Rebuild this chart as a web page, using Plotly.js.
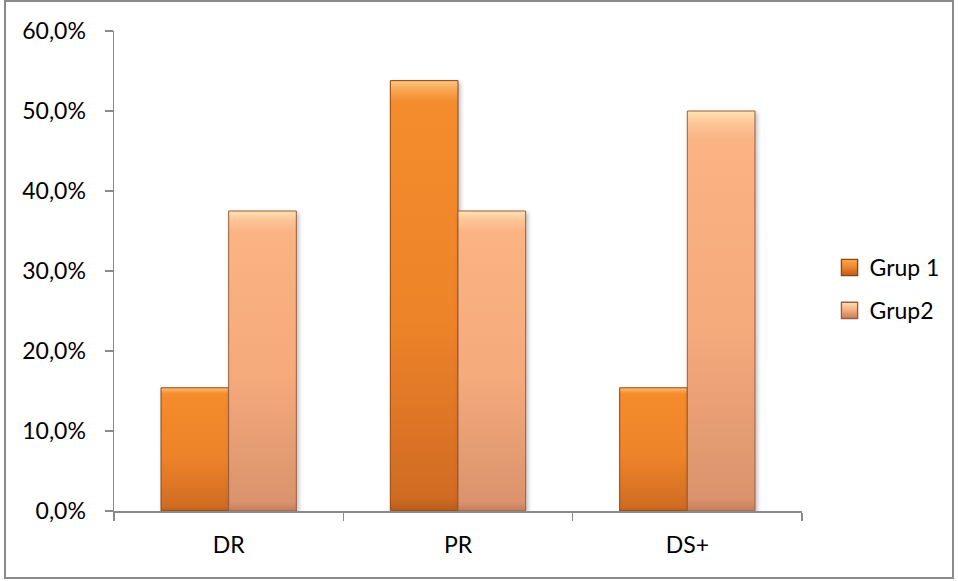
<!DOCTYPE html>
<html>
<head>
<meta charset="utf-8">
<script src="https://cdn.plot.ly/plotly-3.0.1.min.js"></script>
<style>
  html, body { margin: 0; padding: 0; background: #ffffff; }
  #wrap { position: relative; width: 958px; height: 581px; }
  #chart { position: absolute; left: 0; top: 0; width: 958px; height: 581px; }
  #frame {
    position: absolute; left: 4px; top: 0px; width: 946px; height: 575px;
    border: 2px solid #8a8a8a; pointer-events: none;
  }
  .barlayer .point path { filter: drop-shadow(2px 2px 2px rgba(0,0,0,0.25)); }
</style>
</head>
<body>
<div id="wrap">
  <div id="chart"></div>
  <div id="frame"></div>
</div>
<script>
// Categories and shares per group
const categories = ['DR', 'PR', 'DS+'];
const grup1 = [0.154, 0.538, 0.154];
const grup2 = [0.375, 0.375, 0.500];
const seriesNames = ['Grup 1', 'Grup2'];

const FONT = 'Lato, "Open Sans", sans-serif';
const FS = 23;

const traces = [
  {
    type: 'bar', name: seriesNames[0], x: categories, y: grup1,
    marker: { color: '#EE8529', line: { color: '#8f4612', width: 1 } },
    legendgroup: 'a', hoverinfo: 'skip'
  },
  {
    type: 'bar', name: seriesNames[1], x: categories, y: grup2,
    marker: { color: '#F6AA7C', line: { color: '#9c5e42', width: 1 } },
    legendgroup: 'b', hoverinfo: 'skip'
  }
];

const layout = {
  width: 958, height: 581,
  margin: { l: 114, r: 156, t: 31, b: 70, autoexpand: false },
  paper_bgcolor: '#ffffff', plot_bgcolor: '#ffffff',
  separators: ', ',
  font: { family: FONT, size: FS, color: '#000000' },
  barmode: 'group',
  bargap: 0.41, bargroupgap: 0,
  showlegend: true,
  legend: {
    x: 1.04, xanchor: 'left', y: 0.4625, yanchor: 'middle',
    font: { family: FONT, size: FS, color: '#000000' },
    traceorder: 'grouped', tracegroupgap: 10,
    bgcolor: 'rgba(0,0,0,0)', itemwidth: 30
  },
  xaxis: {
    type: 'category', showgrid: false, zeroline: false, automargin: false,
    showline: true, linecolor: '#8a8a8a', linewidth: 1.5,
    ticks: 'outside', tickson: 'boundaries', ticklen: 8, tickcolor: '#8a8a8a', tickwidth: 1.5,
    ticklabelstandoff: 13,
    tickfont: { family: FONT, size: FS, color: '#000000' }
  },
  yaxis: {
    range: [0, 0.6], dtick: 0.1, tick0: 0, tickformat: '.1%', automargin: false,
    showgrid: false, zeroline: false,
    showline: true, linecolor: '#8a8a8a', linewidth: 1.5,
    ticks: 'outside', ticklen: 8, tickcolor: '#8a8a8a', tickwidth: 1.5,
    ticklabelstandoff: 14,
    tickfont: { family: FONT, size: FS, color: '#000000' }
  }
};

Plotly.newPlot('chart', traces, layout, { staticPlot: true, displayModeBar: false }).then(function (gd) {
  // Vertical shading for the bars: light bevel at the top, darker toward the base
  const svg = gd.querySelector('.main-svg');
  const NS = 'http://www.w3.org/2000/svg';
  let defs = svg.querySelector('defs');
  if (!defs) { defs = document.createElementNS(NS, 'defs'); svg.insertBefore(defs, svg.firstChild); }
  function addGrad(id, stops) {
    const g = document.createElementNS(NS, 'linearGradient');
    g.setAttribute('id', id);
    g.setAttribute('x1', '0'); g.setAttribute('y1', '0');
    g.setAttribute('x2', '0'); g.setAttribute('y2', '1');
    stops.forEach(function (s) {
      const st = document.createElementNS(NS, 'stop');
      st.setAttribute('offset', s[0]);
      st.setAttribute('stop-color', s[1]);
      g.appendChild(st);
    });
    defs.appendChild(g);
  }
  addGrad('shadeA', [['0', '#FCC784'], ['0.02', '#F9A854'], ['0.05', '#F48B2C'], ['0.55', '#EE8429'], ['0.97', '#D06B22'], ['1', '#B85C1C']]);
  addGrad('shadeB', [['0', '#FFE3B4'], ['0.03', '#FDC597'], ['0.07', '#FBB383'], ['0.55', '#F5AA7C'], ['0.97', '#DA936C'], ['1', '#C27E5C']]);
  addGrad('keyA', [['0', '#F9A854'], ['0.5', '#EE8429'], ['1', '#B85C1C']]);
  addGrad('keyB', [['0', '#FFE3B4'], ['0.5', '#F5AA7C'], ['1', '#C27E5C']]);

  const barTraces = gd.querySelectorAll('.barlayer .trace');
  const ids = ['shadeA', 'shadeB'];
  const keyIds = ['keyA', 'keyB'];
  barTraces.forEach(function (t, i) {
    t.querySelectorAll('path').forEach(function (p) { p.style.fill = 'url(#' + ids[i] + ')'; });
  });
  // Larger legend keys with the same shading
  const legendTraces = gd.querySelectorAll('.legend .traces');
  legendTraces.forEach(function (t, i) {
    t.querySelectorAll('.legendpoints path').forEach(function (p) {
      p.style.fill = 'url(#' + keyIds[i] + ')';
      const tr = p.getAttribute('transform') || '';
      p.setAttribute('transform', tr + ' scale(1.35)');
    });
  });
});
</script>
</body>
</html>
